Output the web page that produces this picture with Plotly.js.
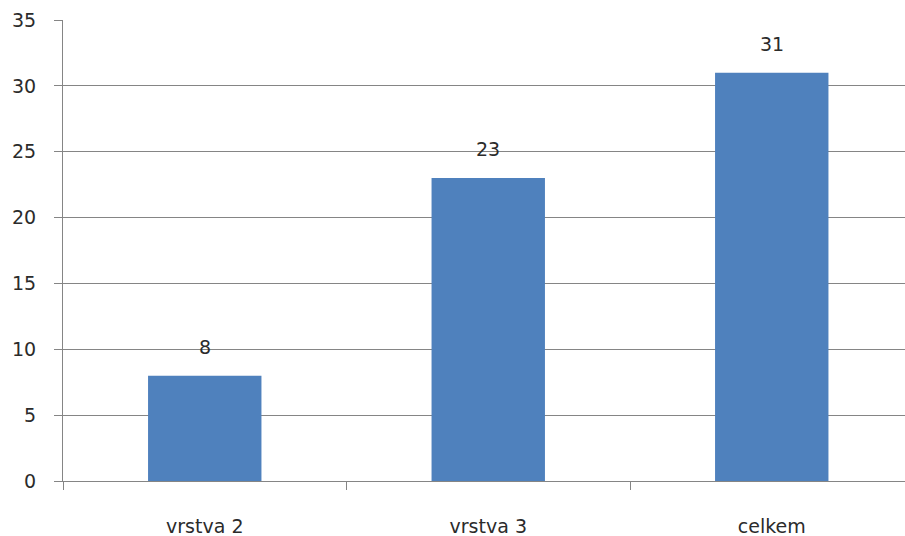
<!DOCTYPE html>
<html>
<head>
<meta charset="utf-8">
<script src="https://cdn.plot.ly/plotly-3.0.1.min.js"></script>
<style>
  html, body { margin: 0; padding: 0; background: #ffffff; }
  #chart { width: 905px; height: 536px; }
</style>
</head>
<body>
<div id="chart"></div>
<script>
// Counts per layer and the total
const categories = ["vrstva 2", "vrstva 3", "celkem"];
const values = [8, 23, 31];
const yTicks = [0, 5, 10, 15, 20, 25, 30, 35];

const barColor = "#4F81BD";
const lineColor = "#858585";
const textColor = "#2b2b2b";
const font = "'DejaVu Sans', Verdana, sans-serif";
const fontSize = 19;

const trace = {
  type: "bar",
  x: categories,
  y: values,
  width: 0.4,
  marker: { color: barColor, line: { width: 0 } },
  hoverinfo: "skip"
};

// Value labels above each bar
const annotations = categories.map((c, i) => ({
  x: c,
  y: values[i],
  text: String(values[i]),
  showarrow: false,
  xanchor: "center",
  yanchor: "bottom",
  yshift: 16,
  font: { family: font, size: fontSize, color: textColor }
}));

const layout = {
  width: 905,
  height: 536,
  autosize: false,
  margin: { l: 63, r: 0, t: 20, b: 55 },
  paper_bgcolor: "#ffffff",
  plot_bgcolor: "#ffffff",
  showlegend: false,
  font: { family: font, size: fontSize, color: textColor },
  xaxis: {
    type: "category",
    range: [-0.5, 2.47],
    showgrid: false,
    zeroline: false,
    showline: true,
    linecolor: lineColor,
    linewidth: 1,
    ticks: "outside",
    tickson: "boundaries",
    ticklen: 8,
    tickcolor: lineColor,
    tickwidth: 1,
    ticklabelstandoff: 28,
    tickfont: { family: font, size: fontSize, color: textColor }
  },
  yaxis: {
    range: [0, 35],
    tickvals: yTicks,
    ticktext: yTicks.map(String),
    showgrid: true,
    gridcolor: lineColor,
    gridwidth: 1,
    zeroline: false,
    showline: true,
    linecolor: lineColor,
    linewidth: 1,
    ticks: "outside",
    ticklen: 8,
    tickcolor: lineColor,
    tickwidth: 1,
    ticklabelstandoff: 14,
    tickfont: { family: font, size: fontSize, color: textColor }
  },
  annotations: annotations
};

Plotly.newPlot("chart", [trace], layout, { staticPlot: true, displayModeBar: false });
</script>
</body>
</html>
